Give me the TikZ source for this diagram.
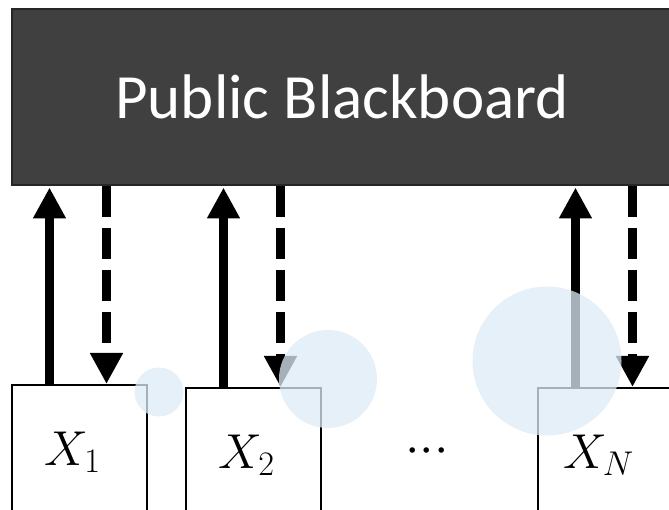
\documentclass[tikz,border=0pt]{standalone}
\usepackage{fix-cm}
\usepackage{fontspec}
\usepackage{amsmath}
\usetikzlibrary{arrows.meta,positioning,calc}
\newfontfamily\boardfont{Carlito}
\definecolor{BoardGray}{RGB}{64,64,64}
\definecolor{BubbleBlue}{RGB}{222,235,247}

\begin{document}
\begin{tikzpicture}[x=1pt,y=-1pt,
    agent/.style={draw, line width=2pt, fill=white, minimum width=135pt, minimum height=135pt,
      anchor=north west, inner sep=0pt},
    post/.style={line width=9pt, shorten >=1.5pt, -{Triangle[length=31pt,width=31pt]}},
    fetch/.style={line width=9pt, dash pattern=on 31pt off 11pt, -{Triangle[length=31pt,width=31pt]}},
    bubble/.style={fill=BubbleBlue, fill opacity=0.75},
    bigmath/.style={font=\fontsize{49}{56}\selectfont}]
  \useasboundingbox (0,0) rectangle (669,510);
  \clip (0,0) rectangle (669,510);

  % shared board across the top
  \node[draw=black!85, line width=2pt, fill=BoardGray, minimum width=660pt, minimum height=176pt,
    anchor=north west, inner sep=0pt, text=white, font=\boardfont\fontsize{63}{70}\selectfont]
    (board) at (11,8) {Public Blackboard};

  % agents
  \foreach \n/\x/\y/\lab in {1/11/384/X_1, 2/185/387/X_2, n/537/387/X_N}
    \node[agent, label={[bigmath, xshift=-7pt]center:$\lab$}] (x\n) at (\x,\y) {};
  \node[font=\fontsize{52}{60}\selectfont, anchor=base] (dots) at (427,463)
    {$\mathord{\cdotp}\mathord{\cdotp}\mathord{\cdotp}$};

  % write up (solid), read down (dashed)
  \foreach \n in {1,2,n} {
    \coordinate (u\n) at ($(x\n.north west)+(38.5,0)$);
    \coordinate (d\n) at ($(x\n.north west)+(95.5,0)$);
    \draw[post] (u\n) -- (u\n |- board.south);
    \draw[fetch] (d\n |- board.south) -- (d\n);
  }

  % bubbles
  \fill[bubble] (159,392) circle[radius=24.5pt];
  \fill[bubble] (328,379) circle[radius=49pt];
  \fill[bubble] (547,361) circle[radius=74.5pt];
\end{tikzpicture}
\end{document}
